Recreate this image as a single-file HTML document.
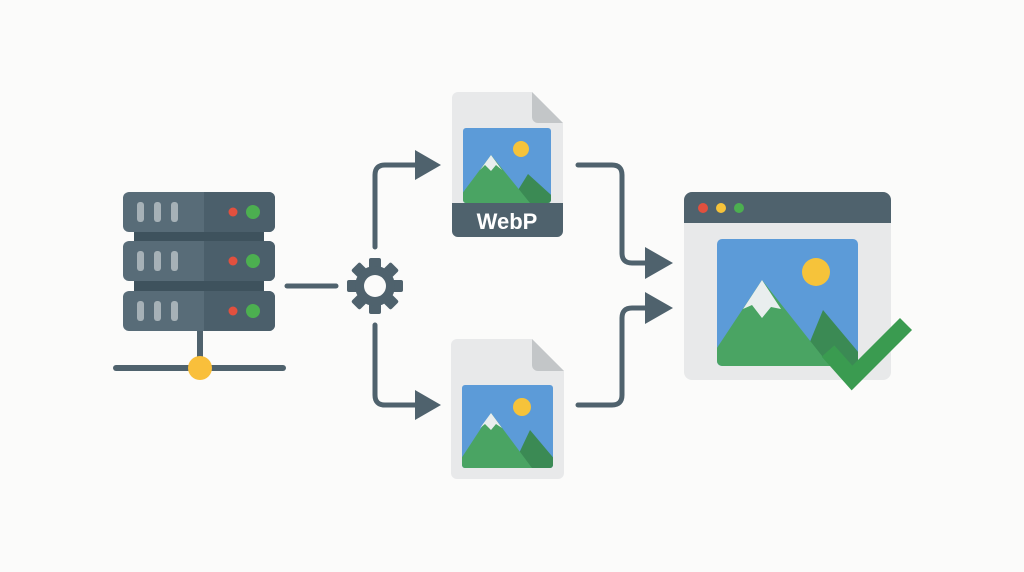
<!DOCTYPE html>
<html><head><style>html,body{margin:0;padding:0;background:#fbfbfa;}svg{display:block}</style></head>
<body>
<svg width="1024" height="572" viewBox="0 0 1024 572" xmlns="http://www.w3.org/2000/svg">
<rect width="1024" height="572" fill="#fbfbfa"/>
<!-- server -->
<g>
<rect x="134" y="228" width="130" height="14" fill="#3e525d"/>
<rect x="134" y="278" width="130" height="14" fill="#3e525d"/>
<g id="u">
<rect x="123" y="192" width="152" height="40" rx="6" fill="#586c78"/>
<path d="M204 192 H269 a6 6 0 0 1 6 6 V226 a6 6 0 0 1 -6 6 H204 Z" fill="#4b5f6b"/>
<rect x="137" y="202" width="7" height="20" rx="3" fill="#a6b1b7"/>
<rect x="154" y="202" width="7" height="20" rx="3" fill="#a6b1b7"/>
<rect x="171" y="202" width="7" height="20" rx="3" fill="#a6b1b7"/>
<circle cx="233" cy="212" r="4.5" fill="#e2503e"/>
<circle cx="253" cy="212" r="7" fill="#4caf50"/>
</g>
<use href="#u" y="49"/>
<use href="#u" y="99"/>
<rect x="197" y="331" width="6" height="37" fill="#4f626d"/>
<rect x="113" y="365" width="173" height="6" rx="3" fill="#4f626d"/>
<circle cx="200" cy="368" r="12" fill="#f9bf3b"/>
</g>
<!-- connectors -->
<g stroke="#4f626d" stroke-width="5" fill="none" stroke-linecap="round">
<line x1="287" y1="286" x2="336" y2="286"/>
<path d="M375 247 V175 q0 -10 10 -10 H420"/>
<path d="M375 325 V395 q0 10 10 10 H420"/>
<path d="M578 165 H612 q10 0 10 10 V253 q0 10 10 10 H650"/>
<path d="M578 405 H612 q10 0 10 -10 V318 q0 -10 10 -10 H650"/>
</g>
<g fill="#4f626d">
<polygon points="415,150 441,165 415,180"/>
<polygon points="415,390 441,405 415,420"/>
<polygon points="645,247 673,263 645,279"/>
<polygon points="645,292 673,308 645,324"/>
</g>
<!-- gear -->
<g transform="translate(375,286)" fill="#4f626d">
<g id="t"><rect x="-6" y="-28" width="12" height="12" rx="2"/></g>
<use href="#t" transform="rotate(45)"/><use href="#t" transform="rotate(90)"/><use href="#t" transform="rotate(135)"/>
<use href="#t" transform="rotate(180)"/><use href="#t" transform="rotate(225)"/><use href="#t" transform="rotate(270)"/><use href="#t" transform="rotate(315)"/>
<circle r="20"/>
<circle r="11" fill="#fbfbfa"/>
</g>
<!-- webp file -->
<path d="M458 92 H532 L563 123 V231 a6 6 0 0 1 -6 6 H458 a6 6 0 0 1 -6 -6 V98 a6 6 0 0 1 6 -6Z" fill="#e8e9ea"/>
<path d="M532 92 L563 123 H538 a6 6 0 0 1 -6 -6Z" fill="#c3c6c8"/>
<defs><clipPath id="c1"><rect x="463" y="128" width="88" height="75" rx="3"/></clipPath>
<clipPath id="c2"><rect x="462" y="385" width="91" height="83" rx="3"/></clipPath>
<clipPath id="c3"><rect x="717" y="239" width="141" height="127" rx="5"/></clipPath></defs>
<g clip-path="url(#c1)">
<rect x="463" y="128" width="88" height="75" fill="#5c9bd8"/>
<circle cx="521" cy="149" r="8" fill="#f6c33a"/>
<polygon points="510,203 528,174 560,203" fill="#3b8a54"/>
<polygon points="455,203 491,155 530,203" fill="#4aa463"/>
<polygon points="480,170 491,155 502,170 496,165 491,171 485,165" fill="#e9eeee"/>
</g>
<path d="M452 203 H563 V231 a6 6 0 0 1 -6 6 H458 a6 6 0 0 1 -6 -6Z" fill="#4f626d"/>
<text x="507" y="229" text-anchor="middle" font-family="Liberation Sans, sans-serif" font-weight="bold" font-size="22" fill="#ffffff">WebP</text>
<!-- plain file -->
<path d="M457 339 H532 L564 371 V473 a6 6 0 0 1 -6 6 H457 a6 6 0 0 1 -6 -6 V345 a6 6 0 0 1 6 -6Z" fill="#e8e9ea"/>
<path d="M532 339 L564 371 H538 a6 6 0 0 1 -6 -6Z" fill="#c3c6c8"/>
<g clip-path="url(#c2)">
<rect x="462" y="385" width="91" height="83" fill="#5c9bd8"/>
<circle cx="522" cy="407" r="9" fill="#f6c33a"/>
<polygon points="512,468 530,430 562,468" fill="#3b8a54"/>
<polygon points="455,468 491,413 532,468" fill="#4aa463"/>
<polygon points="480,428 491,413 502,428 496,424 491,430 485,424" fill="#e9eeee"/>
</g>
<!-- browser -->
<rect x="684" y="192" width="207" height="188" rx="8" fill="#e8e9ea"/>
<path d="M692 192 H883 a8 8 0 0 1 8 8 V223 H684 V200 a8 8 0 0 1 8 -8Z" fill="#4f626d"/>
<circle cx="703" cy="208" r="5" fill="#e2503e"/>
<circle cx="721" cy="208" r="5" fill="#f6c33a"/>
<circle cx="739" cy="208" r="5" fill="#4caf50"/>
<g clip-path="url(#c3)">
<rect x="717" y="239" width="141" height="127" fill="#5c9bd8"/>
<circle cx="816" cy="272" r="14" fill="#f6c33a"/>
<polygon points="800,366 823,310 870,366" fill="#3b8a54"/>
<polygon points="705,366 762,280 830,366" fill="#4aa463"/>
<polygon points="743,309 762,280 781,309 771,307 762,318 752,305" fill="#e9eeee"/>
</g>
<polyline points="828,351 852,378 906,324" fill="none" stroke="#3a9b50" stroke-width="17"/>
</svg>
</body></html>
